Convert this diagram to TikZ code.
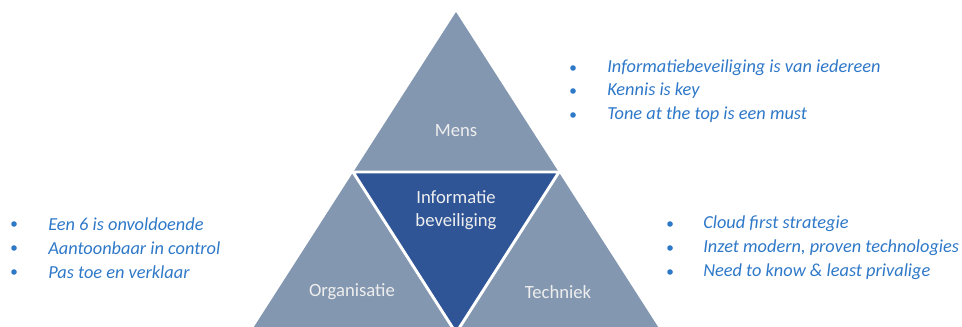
\documentclass[tikz,border=0pt]{standalone}
\usepackage{fontspec}
\setmainfont{Carlito}
\definecolor{outerc}{HTML}{8497B0}
\definecolor{innerc}{HTML}{2F5597}
\definecolor{labc}{HTML}{EEEEEE}
\definecolor{bluetxt}{HTML}{2E78C8}
\begin{document}
\begin{tikzpicture}[x=0.75pt,y=-0.75pt,
  lab/.style={text=labc,font=\fontsize{14}{17}\selectfont,align=center,inner sep=0pt},
  item/.style={text=bluetxt,font=\fontsize{13.75}{16}\selectfont\itshape,anchor=west,inner sep=0pt},
  dot/.style={circle,fill=bluetxt,inner sep=0pt,minimum size=4.2pt}]
\useasboundingbox (0,0) rectangle (962,327);
\begin{scope}
\clip (0,0) rectangle (962,327);
\coordinate (A) at (456,12);
\coordinate (BL) at (250,333);
\coordinate (BR) at (662,333);
\coordinate (ML) at (353,172);
\coordinate (MR) at (559,172);
\coordinate (MB) at (456,333);
\fill[outerc] (A) -- (BL) -- (BR) -- cycle;
\filldraw[fill=innerc,draw=white,line width=2.2pt,line join=miter] (ML) -- (MR) -- (MB) -- cycle;
\end{scope}
\node[lab] (mens) at (456,131) {Mens};
\node[lab] (info) at (456,210) {Informatie\\beveiliging};
\node[lab] (org) at (352,292) {Organisatie};
\node[lab] (tech) at (558,292) {Techniek};
% top list
\node[dot] (d1) at (573,68) {};
\node[dot] (d2) at (573,91) {};
\node[dot] (d3) at (573,115) {};
\node[item] (t1) at (607,68) {Informatiebeveiliging is van iedereen};
\node[item] (t2) at (607,91) {Kennis is key};
\node[item] (t3) at (607,115) {Tone at the top is een must};
% left list
\node[dot] (l1) at (14,224) {};
\node[dot] (l2) at (14,248) {};
\node[dot] (l3) at (14,272) {};
\node[item] (lt1) at (48,224) {Een 6 is onvoldoende};
\node[item] (lt2) at (48,248) {Aantoonbaar in control};
\node[item] (lt3) at (48,272) {Pas toe en verklaar};
% right list
\node[dot] (r1) at (670,224) {};
\node[dot] (r2) at (670,248) {};
\node[dot] (r3) at (670,272) {};
\node[item] (rt1) at (703,224) {Cloud first strategie};
\node[item] (rt2) at (703,248) {Inzet modern, proven technologies};
\node[item] (rt3) at (703,272) {Need to know \& least privalige};
\end{tikzpicture}
\end{document}
